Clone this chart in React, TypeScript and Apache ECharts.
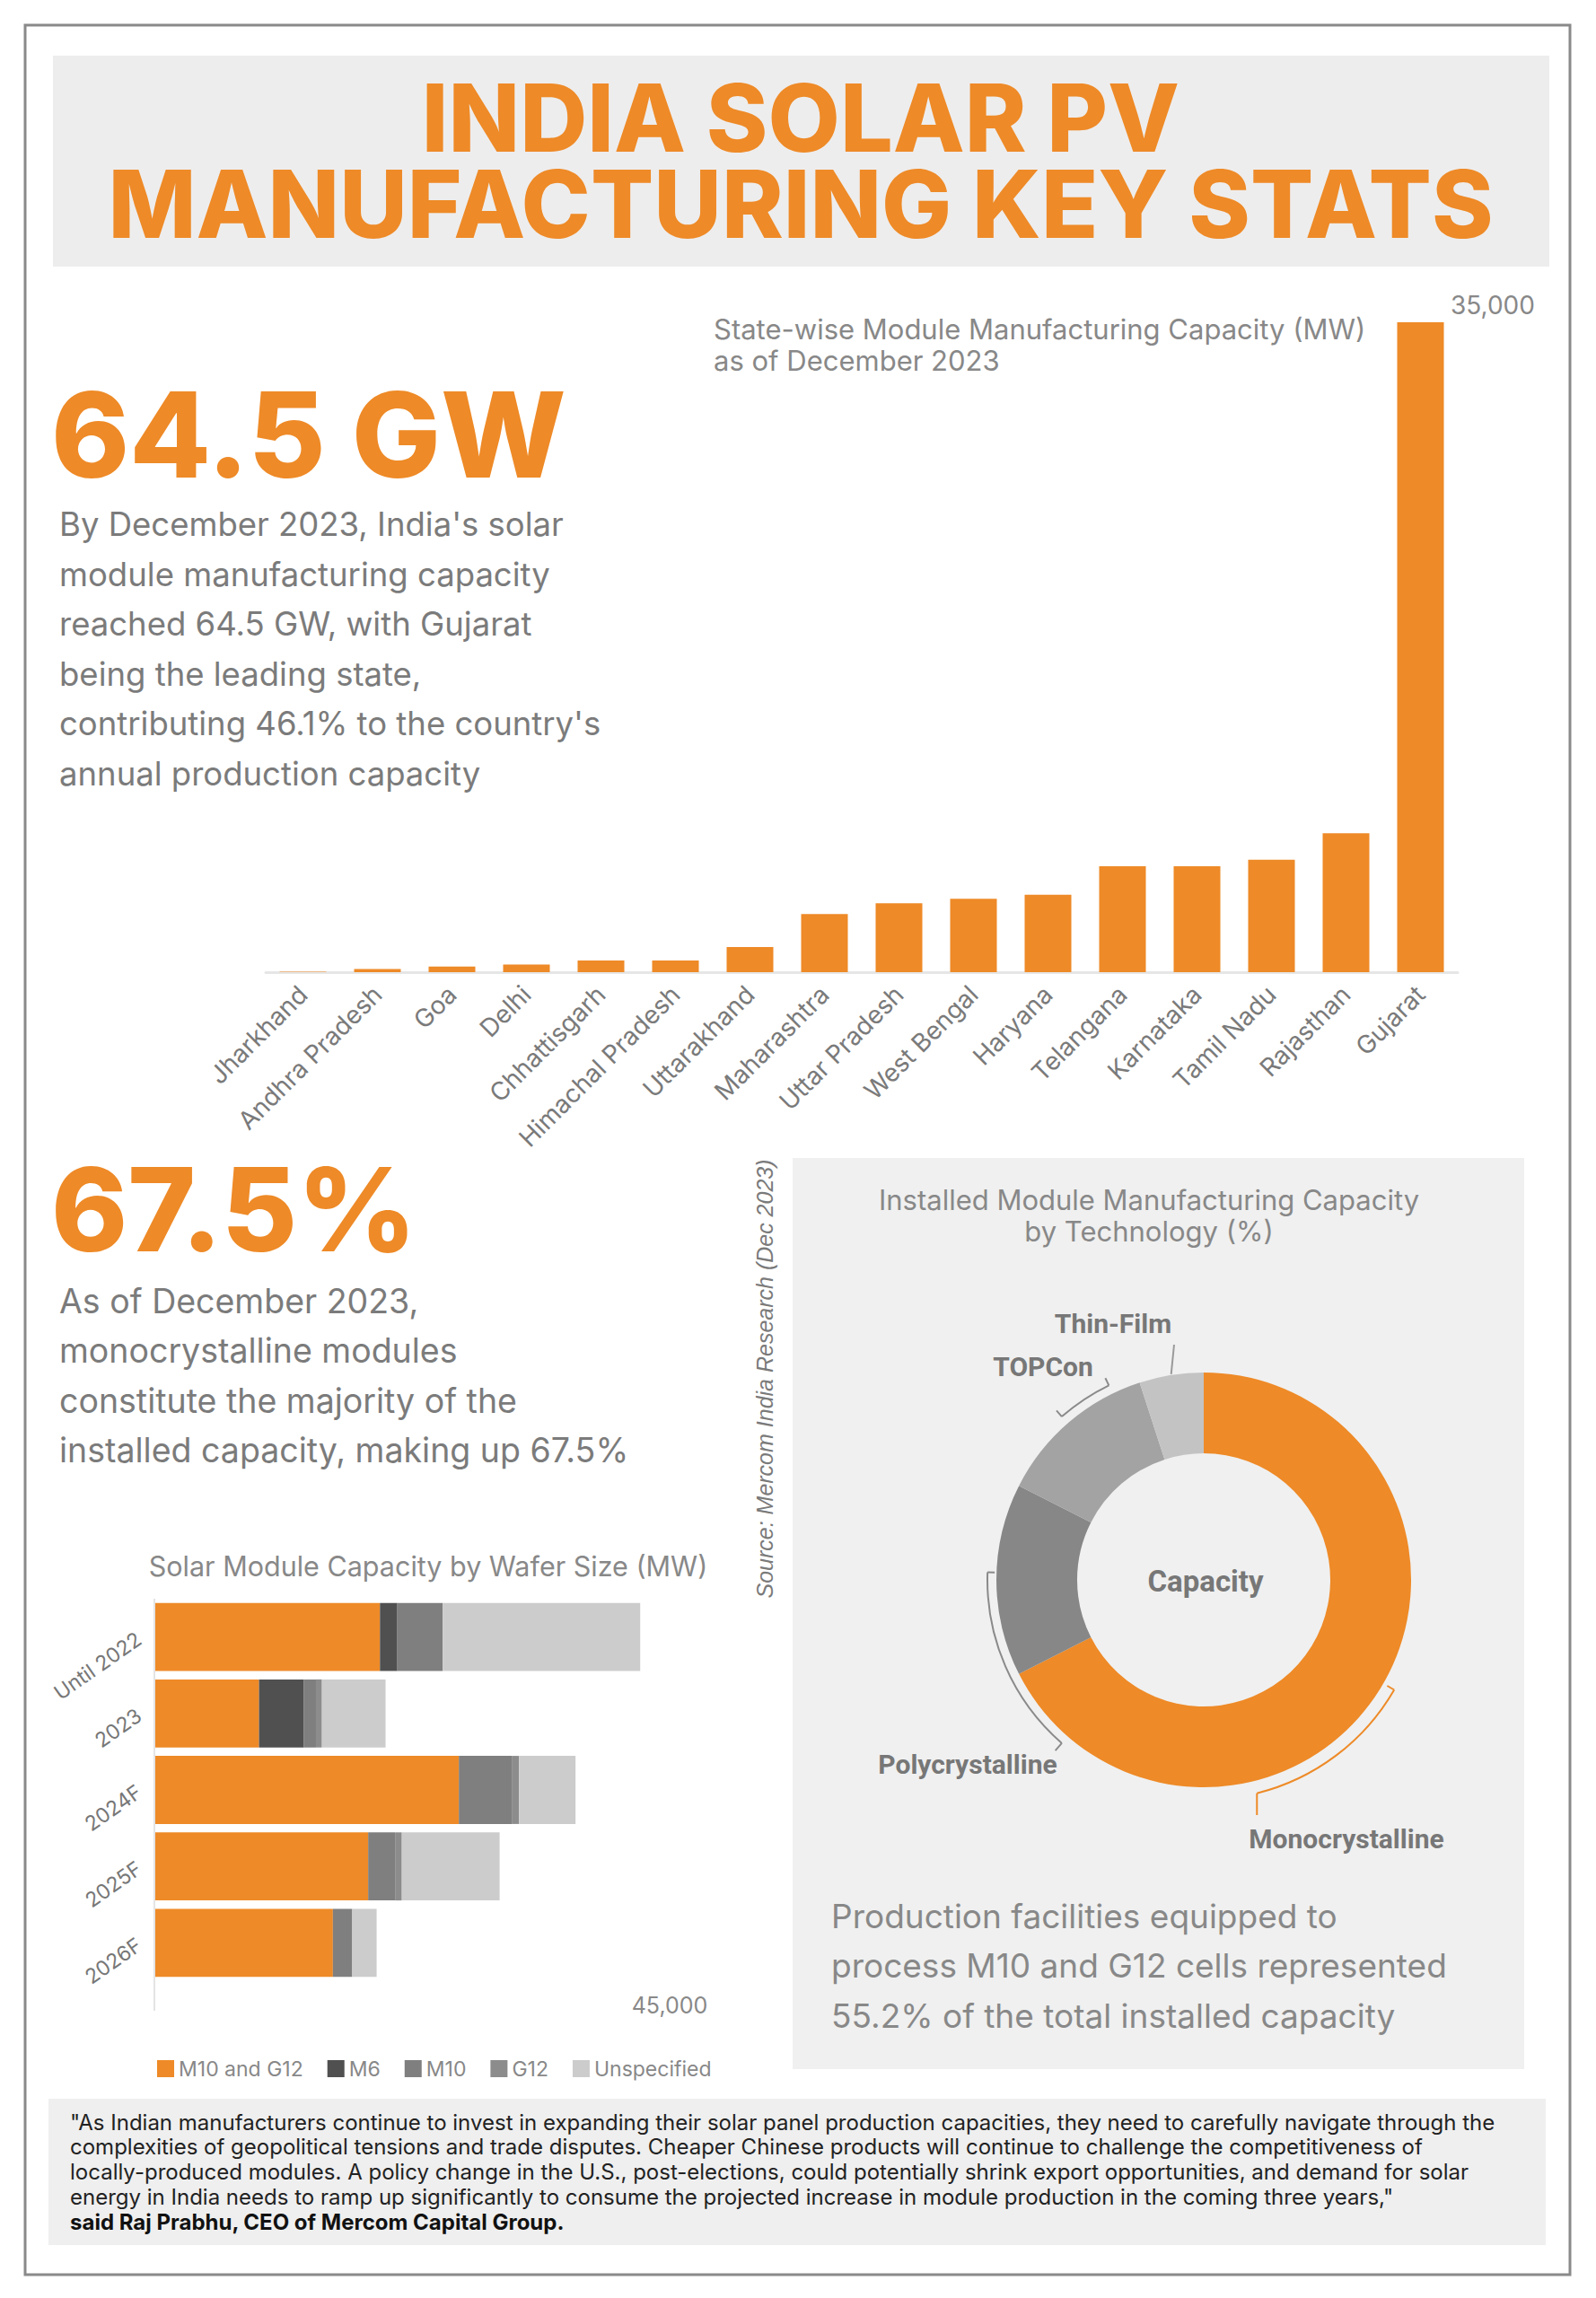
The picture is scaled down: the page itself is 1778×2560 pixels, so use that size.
import React, { useEffect, useRef } from 'react';
import * as echarts from 'echarts';

// ---------- DATA ----------
const STATES = ['Jharkhand', 'Andhra Pradesh', 'Goa', 'Delhi', 'Chhattisgarh', 'Himachal Pradesh', 'Uttarakhand', 'Maharashtra', 'Uttar Pradesh', 'West Bengal', 'Haryana', 'Telangana', 'Karnataka', 'Tamil Nadu', 'Rajasthan', 'Gujarat'];
const STATE_CAPACITY_MW = [20, 170, 300, 405, 615, 615, 1320, 3050, 3615, 3850, 4065, 5560, 5560, 5905, 7290, 34100];
const STATE_AXIS_MAX = 35000;

const WAFER_PERIODS = ['Until 2022', '2023', '2024F', '2025F', '2026F'];
const WAFER_SERIES = ['M10 and G12', 'M6', 'M10', 'G12', 'Unspecified'];
const M10_AND_G12 = [19700, 9140, 26590, 18670, 15590];
const M6 = [1520, 3920, 0, 0, 0];
const M10 = [3960, 1050, 4620, 2350, 1690];
const G12 = [0, 520, 630, 590, 0];
const UNSPECIFIED = [17250, 5560, 4940, 8540, 2130];
const WAFER_AXIS_MAX = 45000;

const TECHNOLOGIES = ['Monocrystalline', 'Polycrystalline', 'TOPCon', 'Thin-Film'];
const TECH_SHARE = [67.5, 15, 12.5, 5];

const TITLE_LINES = ['INDIA SOLAR PV', 'MANUFACTURING KEY STATS'];
const PARA_1 = ["By December 2023, India's solar", 'module manufacturing capacity', 'reached 64.5 GW, with Gujarat', 'being the leading state,', "contributing 46.1% to the country's", 'annual production capacity'];
const PARA_2 = ['As of December 2023,', 'monocrystalline modules', 'constitute the majority of the', 'installed capacity, making up 67.5%'];
const PARA_3 = ['Production facilities equipped to', 'process M10 and G12 cells represented', '55.2% of the total installed capacity'];
const QUOTE = [
  '"As Indian manufacturers continue to invest in expanding their solar panel production capacities, they need to carefully navigate through the',
  'complexities of geopolitical tensions and trade disputes. Cheaper Chinese products will continue to challenge the competitiveness of',
  'locally-produced modules. A policy change in the U.S., post-elections, could potentially shrink export opportunities, and demand for solar',
  'energy in India needs to ramp up significantly to consume the projected increase in module production in the coming three years,"',
];
const QUOTE_AUTHOR = 'said Raj Prabhu, CEO of Mercom Capital Group.';

// ---------- STYLE ----------
const ORANGE = '#EE8A27';
const WAFER_COLORS = [ORANGE, '#505050', '#7f7f7f', '#8c8c8c', '#cccccc'];
const TECH_COLORS = [ORANGE, '#878787', '#a3a3a3', '#c3c3c3'];
const BODY = 'Inter, "Noto Sans", sans-serif';
const GRAY_TEXT = '#7b7b7b';

const PIE_C = [1341, 1760];

function polar(thetaDeg: number, r: number): [number, number] {
  const t = (thetaDeg * Math.PI) / 180;
  return [PIE_C[0] + r * Math.sin(t), PIE_C[1] - r * Math.cos(t)];
}
function rad(thetaDeg: number) {
  return ((thetaDeg - 90) * Math.PI) / 180;
}

function txt(x: number, y: number, text: string, o: any = {}) {
  const align = o.align || 'left';
  const style: any = {
    text,
    fill: o.fill || GRAY_TEXT,
    fontSize: o.fontSize || 37,
    fontFamily: o.fontFamily || BODY,
    fontWeight: o.fontWeight || 'normal',
    fontStyle: o.fontStyle || 'normal',
    align,
    textAlign: align,
    verticalAlign: 'middle',
    textVerticalAlign: 'middle',
  };
  if (o.lineHeight) style.lineHeight = o.lineHeight;
  return { type: 'text', x, y, z: 20, rotation: o.rotation || 0, style };
}
function rect(x: number, y: number, w: number, h: number, style: any) {
  return { type: 'rect', z: -20, silent: true, shape: { x, y, width: w, height: h }, style };
}
function line(p1: number[], p2: number[], stroke: string) {
  return { type: 'line', z: 15, shape: { x1: p1[0], y1: p1[1], x2: p2[0], y2: p2[1] }, style: { stroke, lineWidth: 2 } };
}
function arc(r: number, t1: number, t2: number, stroke: string) {
  return {
    type: 'arc', z: 15,
    shape: { cx: PIE_C[0], cy: PIE_C[1], r, startAngle: rad(t1), endAngle: rad(t2), clockwise: true },
    style: { stroke, lineWidth: 2, fill: 'none' },
  };
}

export default function App() {
  const ref = useRef<HTMLDivElement>(null);
  useEffect(() => {
    if (!ref.current) return;
    const chart = echarts.init(ref.current, undefined, { renderer: 'svg' });

    const graphics: any[] = [];
    // backgrounds
    graphics.push(rect(28, 28, 1721, 2506, { fill: '#ffffff', stroke: '#8a8a8a', lineWidth: 3 }));
    graphics.push(rect(59, 62, 1667, 235, { fill: '#eeeded' }));
    graphics.push(rect(883, 1290, 815, 1015, { fill: '#f0f0f0' }));
    graphics.push(rect(54, 2338, 1668, 163, { fill: '#efefef' }));

    // title (one text block, two lines)
    graphics.push(txt(892, 179, TITLE_LINES.join('\n'), { align: 'center', fontSize: 104, fontWeight: 800, fill: ORANGE, lineHeight: 96 }));
    // big stats
    graphics.push(txt(57, 484, '64.5 GW', { fontSize: 132, fontWeight: 800, fill: ORANGE }));
    graphics.push(txt(57, 1347, '67.5%', { fontSize: 129, fontWeight: 800, fill: ORANGE }));
    PARA_1.forEach((t, i) => graphics.push(txt(66, 584 + i * 55.5, t, { fontSize: 36.5 })));
    PARA_2.forEach((t, i) => graphics.push(txt(66, 1449 + i * 55.5, t, { fontSize: 37.5 })));
    PARA_3.forEach((t, i) => graphics.push(txt(926, 2134 + i * 55.5, t, { fontSize: 37, fill: '#888888' })));

    // chart titles
    graphics.push(txt(795, 366, 'State-wise Module Manufacturing Capacity (MW)', { fontSize: 31, fill: '#888888' }));
    graphics.push(txt(795, 401, 'as of December 2023', { fontSize: 31, fill: '#888888' }));
    graphics.push(txt(1280, 1336, 'Installed Module Manufacturing Capacity', { fontSize: 31, fill: '#888888', align: 'center' }));
    graphics.push(txt(1280, 1371, 'by Technology (%)', { fontSize: 31, fill: '#888888', align: 'center' }));
    graphics.push(txt(477, 1744, 'Solar Module Capacity by Wafer Size (MW)', { fontSize: 30.5, fill: '#888888', align: 'center' }));

    // source
    graphics.push(txt(852, 1536, 'Source: Mercom India Research (Dec 2023)', {
      align: 'center', fontSize: 25, fontStyle: 'italic', fontFamily: '"Liberation Sans", Arial, sans-serif', fill: '#7a7a7a', rotation: Math.PI / 2,
    }));

    // donut labels
    const bold = { fontSize: 30, fontWeight: 'bold', fontFamily: 'Roboto, sans-serif', fill: '#777777', align: 'center' };
    graphics.push(txt(1240, 1474, TECHNOLOGIES[3], bold));
    graphics.push(txt(1162, 1522, TECHNOLOGIES[2], bold));
    graphics.push(txt(1078, 1965, TECHNOLOGIES[1], bold));
    graphics.push(txt(1500, 2048, TECHNOLOGIES[0], bold));
    graphics.push(txt(1343, 1761, 'Capacity', { ...bold, fontSize: 33 }));

    // leader brackets
    const lg = '#8a8a8a';
    graphics.push(line(polar(351, 232), [1308, 1498], '#9a9a9a'));
    graphics.push(arc(241, 319, 334, lg));
    graphics.push(line(polar(319, 241), polar(319, 250), lg));
    graphics.push(line(polar(334, 241), polar(334, 250), lg));
    graphics.push(arc(241, 221, 272, lg));
    graphics.push(line(polar(272, 241), polar(272, 233), lg));
    graphics.push(line(polar(221, 241), polar(221, 252), lg));
    graphics.push(arc(245, 120, 166, ORANGE));
    graphics.push(line(polar(120, 245), polar(120, 236), ORANGE));
    const mEnd = polar(166, 245);
    graphics.push(line(mEnd, [mEnd[0], 2022], ORANGE));

    // wafer chart axis line
    graphics.push(line([172, 1781], [172, 2240], '#e4e4e4'));

    // quote
    QUOTE.forEach((t, i) => graphics.push(txt(78, 2364 + i * 27.8, t, { fontSize: 24, fill: '#222222' })));
    graphics.push(txt(78, 2475, QUOTE_AUTHOR, { fontSize: 24, fill: '#111111', fontWeight: 'bold' }));

    const waferData = [M10_AND_G12, M6, M10, G12, UNSPECIFIED];

    chart.setOption({
      animation: false,
      backgroundColor: '#ffffff',
      textStyle: { fontFamily: BODY },
      grid: [
        { left: 296, top: 340, width: 1328, height: 743 },
        { left: 172, top: 1781, width: 574, height: 426 },
      ],
      xAxis: [
        {
          gridIndex: 0, type: 'category', data: STATES,
          axisLine: { lineStyle: { color: '#e6e6e6', width: 3 } },
          axisTick: { show: false },
          axisLabel: { interval: 0, rotate: 45, fontSize: 28, color: '#7a7a7a', margin: 20, fontFamily: BODY },
        },
        {
          gridIndex: 1, type: 'value', min: 0, max: WAFER_AXIS_MAX, interval: WAFER_AXIS_MAX,
          axisLine: { show: false }, axisTick: { show: false }, splitLine: { show: false },
          axisLabel: { fontSize: 25, color: '#888888', margin: 14, fontFamily: BODY,
            formatter: (v: number) => (v === WAFER_AXIS_MAX ? '45,000' : '') },
        },
      ],
      yAxis: [
        {
          gridIndex: 0, type: 'value', position: 'right', min: 0, max: STATE_AXIS_MAX, interval: STATE_AXIS_MAX,
          axisLine: { show: false }, axisTick: { show: false }, splitLine: { show: false },
          axisLabel: { fontSize: 28, color: '#888888', margin: -8, fontFamily: BODY,
            formatter: (v: number) => (v === STATE_AXIS_MAX ? '35,000' : '') },
        },
        {
          gridIndex: 1, type: 'category', data: WAFER_PERIODS, inverse: true,
          axisLine: { show: false }, axisTick: { show: false },
          axisLabel: { rotate: 35, fontSize: 23, color: '#777777', margin: 17, fontFamily: BODY },
        },
      ],
      legend: {
        left: 170, top: 2288, itemWidth: 19, itemHeight: 19, itemGap: 27, icon: 'rect',
        selectedMode: false, data: WAFER_SERIES,
        textStyle: { fontSize: 23, color: '#888888', fontFamily: BODY },
      },
      series: [
        {
          type: 'bar', name: 'State capacity', xAxisIndex: 0, yAxisIndex: 0,
          data: STATE_CAPACITY_MW, barWidth: 52, itemStyle: { color: ORANGE },
        },
        ...WAFER_SERIES.map((name, i) => ({
          type: 'bar', name, stack: 'wafer', xAxisIndex: 1, yAxisIndex: 1,
          data: waferData[i], barCategoryGap: '11%', itemStyle: { color: WAFER_COLORS[i] },
        })),
        {
          type: 'pie', name: 'Technology', center: PIE_C, radius: [141, 231], startAngle: 90, clockwise: true,
          label: { show: false }, labelLine: { show: false }, silent: true,
          data: TECHNOLOGIES.map((n, i) => ({ name: n, value: TECH_SHARE[i], itemStyle: { color: TECH_COLORS[i] } })),
        },
      ],
      graphic: { elements: graphics },
    });
    return () => chart.dispose();
  }, []);
  return <div ref={ref} style={{ position: 'absolute', left: 0, top: 0, width: 1778, height: 2560 }} />;
}
